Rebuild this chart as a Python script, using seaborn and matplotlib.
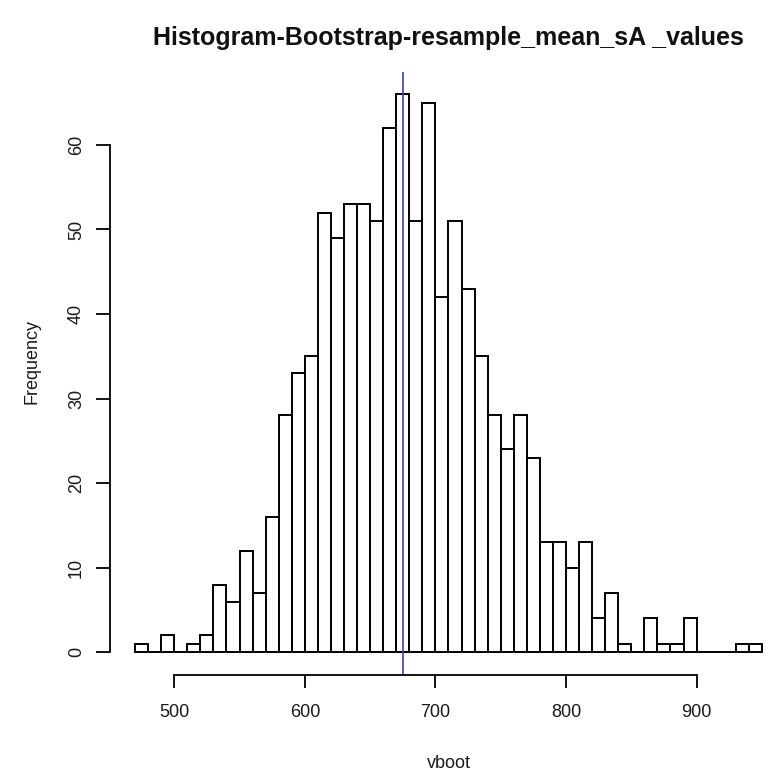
import numpy as np
import pandas as pd
import matplotlib
matplotlib.use("Agg")
import matplotlib.pyplot as plt
import seaborn as sns

# ---- data ----
bin_start = 470
bin_width = 10
counts = [1, 0, 2, 0, 1, 2, 8, 6, 12, 7, 16, 28, 33, 35, 52, 49, 53, 53, 51,
          62, 66, 51, 65, 42, 51, 43, 35, 28, 24, 28, 23, 13, 13, 10, 13, 4,
          7, 1, 0, 4, 1, 1, 4, 0, 0, 0, 1, 1]
mean_value = 675
x_ticks = [500, 600, 700, 800, 900]
y_ticks = [0, 10, 20, 30, 40, 50, 60]
title = "Histogram-Bootstrap-resample_mean_sA _values"
xlabel = "vboot"
ylabel = "Frequency"

n_bins = len(counts)
bin_end = bin_start + n_bins * bin_width
mids = [bin_start + bin_width * (i + 0.5) for i in range(n_bins)]
df = pd.DataFrame({"vboot": mids, "count": counts})

sns.set_style("white")
plt.rcParams["font.family"] = ["Liberation Sans", "DejaVu Sans"]

fig = plt.figure(figsize=(7.69, 7.76), dpi=100)
ax = fig.add_axes([0.1430, 0.1307, 0.8804, 0.7767])

sns.histplot(data=df, x="vboot", weights="count", binwidth=bin_width,
             binrange=(bin_start, bin_end), stat="count",
             color="white", edgecolor="black", linewidth=1.4, alpha=1,
             ax=ax)

ax.axvline(mean_value, color="#3c3cc4", linewidth=1.2)

# R-like extents (4% padding)
xr = bin_end - bin_start
ax.set_xlim(bin_start - 0.04 * xr, bin_end + 0.04 * xr)
ymax = max(counts)
ax.set_ylim(-0.04 * ymax, ymax * 1.04)

for s in ["top", "right"]:
    ax.spines[s].set_visible(False)
ax.spines["bottom"].set_bounds(x_ticks[0], x_ticks[-1])
ax.spines["left"].set_bounds(y_ticks[0], y_ticks[-1])
for s in ["bottom", "left"]:
    ax.spines[s].set_color("black")
    ax.spines[s].set_linewidth(1.3)

ax.set_xticks(x_ticks)
ax.set_yticks(y_ticks)
ax.set_yticklabels([str(v) for v in y_ticks], rotation=90, va="center")
ax.tick_params(axis="x", direction="out", length=9.4, width=1.3,
               color="black", labelsize=13, pad=12, labelcolor="#1a1a1a")
ax.tick_params(axis="y", direction="out", length=10, width=1.3,
               color="black", labelsize=13, pad=8, labelcolor="#1a1a1a")
ax.xaxis.set_ticks_position("bottom")
ax.yaxis.set_ticks_position("left")

ax.set_xlabel(xlabel, fontsize=13, labelpad=24, color="#1a1a1a")
ax.set_ylabel(ylabel, fontsize=13, labelpad=20, color="#1a1a1a")
ax.yaxis.label.set_y(0.52)
ax.set_title(title, fontsize=18, fontweight="bold", pad=19, color="#111111")
ax.grid(False)

fig.savefig("out.png", dpi=100)
